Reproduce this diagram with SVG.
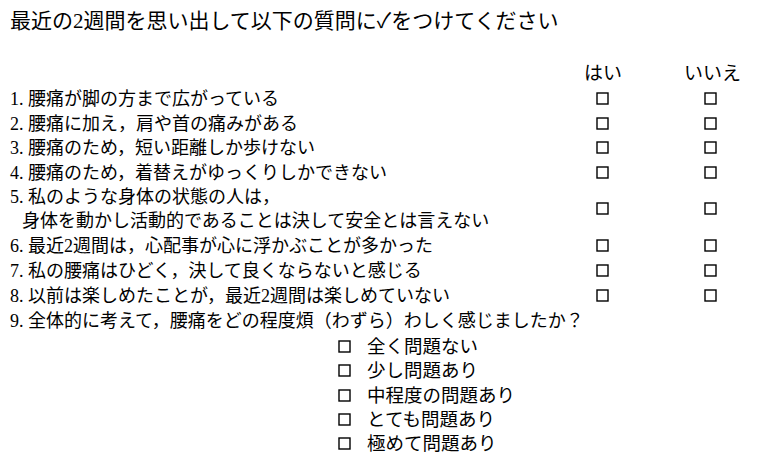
<svg xmlns="http://www.w3.org/2000/svg" width="766" height="459" viewBox="0 0 766 459">
<style>
text{font-family:"Liberation Serif","Noto Sans CJK JP",sans-serif;font-size:18px;fill:#000}
.t{font-size:21px}
.h{font-size:19px}
.o{font-size:18.5px}
.b{fill:none;stroke:#000;stroke-width:1.4}
</style>
<rect width="766" height="459" fill="#fff"/>
<g id="title"><text class="t" x="10" y="28">最近の2週間を思い出して以下の質問に✓をつけてください</text></g>
<g id="headers"><text class="h" x="584" y="80">はい</text><text class="h" x="684" y="80">いいえ</text></g>
<g id="questions">
<text x="10" y="105">1. 腰痛が脚の方まで広がっている</text>
<text x="10" y="130">2. 腰痛に加え，肩や首の痛みがある</text>
<text x="10" y="154">3. 腰痛のため，短い距離しか歩けない</text>
<text x="10" y="179">4. 腰痛のため，着替えがゆっくりしかできない</text>
<text x="10" y="203">5. 私のような身体の状態の人は，</text>
<text x="22" y="227">身体を動かし活動的であることは決して安全とは言えない</text>
<text x="10" y="252">6. 最近2週間は，心配事が心に浮かぶことが多かった</text>
<text x="10" y="277">7. 私の腰痛はひどく，決して良くならないと感じる</text>
<text x="10" y="302">8. 以前は楽しめたことが，最近2週間は楽しめていない</text>
<text x="10" y="327">9. 全体的に考えて，腰痛をどの程度煩（わずら）わしく感じましたか？</text>
</g>
<g id="boxes">
<rect class="b" x="597" y="93" width="11" height="11"/><rect class="b" x="705" y="93" width="11" height="11"/>
<rect class="b" x="597" y="118" width="11" height="11"/><rect class="b" x="705" y="118" width="11" height="11"/>
<rect class="b" x="597" y="142" width="11" height="11"/><rect class="b" x="705" y="142" width="11" height="11"/>
<rect class="b" x="597" y="167" width="11" height="11"/><rect class="b" x="705" y="167" width="11" height="11"/>
<rect class="b" x="597" y="203" width="11" height="11"/><rect class="b" x="705" y="203" width="11" height="11"/>
<rect class="b" x="597" y="240" width="11" height="11"/><rect class="b" x="705" y="240" width="11" height="11"/>
<rect class="b" x="597" y="265" width="11" height="11"/><rect class="b" x="705" y="265" width="11" height="11"/>
<rect class="b" x="597" y="290" width="11" height="11"/><rect class="b" x="705" y="290" width="11" height="11"/>
</g>
<g id="options">
<rect class="b" x="339" y="341" width="11" height="11"/><text class="o" x="367" y="353">全く問題ない</text>
<rect class="b" x="339" y="365" width="11" height="11"/><text class="o" x="367" y="377">少し問題あり</text>
<rect class="b" x="339" y="390" width="11" height="11"/><text class="o" x="367" y="402">中程度の問題あり</text>
<rect class="b" x="339" y="414" width="11" height="11"/><text class="o" x="367" y="426">とても問題あり</text>
<rect class="b" x="339" y="438" width="11" height="11"/><text class="o" x="367" y="450">極めて問題あり</text>
</g>
</svg>
